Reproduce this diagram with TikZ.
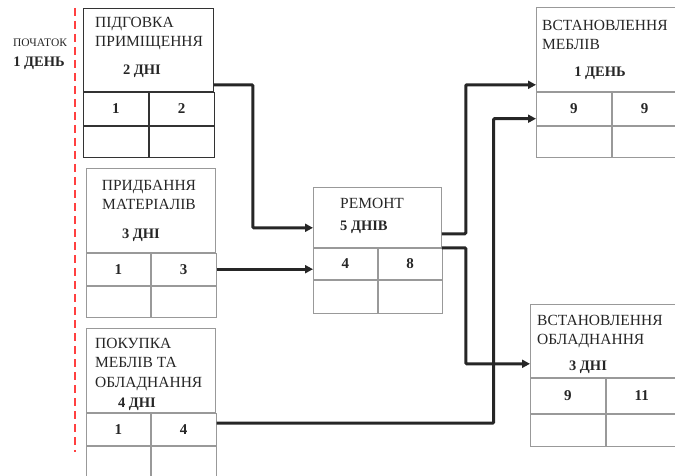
\documentclass[tikz,border=0pt]{standalone}
\usepackage{fontspec}
\setmainfont{Liberation Serif}
\usepackage{tikz}
\usetikzlibrary{positioning}
\usetikzlibrary{arrows.meta}

\begin{document}
\begin{tikzpicture}[
    x=1pt, y=-1pt,
    cell/.style={draw=black!40, line width=0.8pt, anchor=north west, inner sep=0pt, text=black!85, font=\fontsize{15}{17}\selectfont\bfseries},
    darkcell/.style={cell, draw=black!80},
    title/.style={anchor=north west, inner sep=0pt, align=left, text=black!85, font=\fontsize{15.5}{19.5}\selectfont},
    dur/.style={anchor=base, inner sep=0pt, text=black!85, font=\fontsize{14.5}{17}\selectfont\bfseries},
    link/.style={-{Triangle[length=8pt,width=8pt]}, line width=3pt, black!85, rounded corners=1pt},
    startline/.style={red!75, line width=2.5pt, dash pattern=on 8pt off 5pt}
]
\clip (0,0) rectangle (675,476);

% Start line
\coordinate (st) at (75,8);
\coordinate (sb) at (75,452);
\draw[startline] (st) -- (sb);
\node[dur, font=\fontsize{11.5}{14}\selectfont] (begin) at (40,47) {ПОЧАТОК};
\node[dur] (begindays) at (39,67) {1 ДЕНЬ};

% Tasks
\node[darkcell, minimum width=130pt, minimum height=83pt] (pA) at (83,8) {};
\node[darkcell, minimum width=65pt, minimum height=33pt] (pA1) at (pA.south west) {1};
\node[darkcell, minimum width=65pt, minimum height=33pt] (pA2) at (pA1.north east) {2};
\node[darkcell, minimum width=65pt, minimum height=31pt] (pA3) at (pA1.south west) {};
\node[darkcell, minimum width=65pt, minimum height=31pt] (pA4) at (pA3.north east) {};
\node[title] (tA) at (95,17) {ПІДГОВКА\\ПРИМІЩЕННЯ};
\node[dur] (dA) at (142,75) {2 ДНІ};

\node[cell, minimum width=129pt, minimum height=84pt] (pB) at (86,168) {};
\node[cell, minimum width=64pt, minimum height=32pt] (pB1) at (pB.south west) {1};
\node[cell, minimum width=65pt, minimum height=32pt] (pB2) at (pB1.north east) {3};
\node[cell, minimum width=64pt, minimum height=31pt] (pB3) at (pB1.south west) {};
\node[cell, minimum width=65pt, minimum height=31pt] (pB4) at (pB3.north east) {};
\node[title, anchor=north, align=center] (tB) at (149,180) {ПРИДБАННЯ\\МАТЕРІАЛІВ};
\node[dur] (dB) at (141,238) {3 ДНІ};

\node[cell, minimum width=129pt, minimum height=84pt] (pC) at (86,328) {};
\node[cell, minimum width=64pt, minimum height=32pt] (pC1) at (pC.south west) {1};
\node[cell, minimum width=65pt, minimum height=32pt] (pC2) at (pC1.north east) {4};
\node[cell, minimum width=64pt, minimum height=40pt] (pC3) at (pC1.south west) {};
\node[cell, minimum width=65pt, minimum height=40pt] (pC4) at (pC3.north east) {};
\node[title] (tC) at (95,338) {ПОКУПКА\\МЕБЛІВ ТА\\ОБЛАДНАННЯ};
\node[dur] (dC) at (137,407) {4 ДНІ};

\node[cell, minimum width=128pt, minimum height=60pt] (pR) at (313,187) {};
\node[cell, minimum width=64pt, minimum height=31pt] (pR1) at (pR.south west) {4};
\node[cell, minimum width=64pt, minimum height=31pt] (pR2) at (pR1.north east) {8};
\node[cell, minimum width=64pt, minimum height=33pt] (pR3) at (pR1.south west) {};
\node[cell, minimum width=64pt, minimum height=33pt] (pR4) at (pR3.north east) {};
\node[title] (tR) at (340,198) {РЕМОНТ};
\node[dur, anchor=base west] (dR) at (340,230) {5 ДНІВ};

\node[cell, minimum width=140pt, minimum height=84pt] (pD) at (536,7) {};
\node[cell, minimum width=75pt, minimum height=33pt] (pD1) at (pD.south west) {9};
\node[cell, minimum width=65pt, minimum height=33pt] (pD2) at (pD1.north east) {9};
\node[cell, minimum width=75pt, minimum height=31pt] (pD3) at (pD1.south west) {};
\node[cell, minimum width=65pt, minimum height=31pt] (pD4) at (pD3.north east) {};
\node[title] (tD) at (542,20) {ВСТАНОВЛЕННЯ\\МЕБЛІВ};
\node[dur] (dD) at (600,77) {1 ДЕНЬ};

\node[cell, minimum width=146pt, minimum height=73pt] (pE) at (530,304) {};
\node[cell, minimum width=75pt, minimum height=35pt] (pE1) at (pE.south west) {9};
\node[cell, minimum width=71pt, minimum height=35pt] (pE2) at (pE1.north east) {11};
\node[cell, minimum width=75pt, minimum height=32pt] (pE3) at (pE1.south west) {};
\node[cell, minimum width=71pt, minimum height=32pt] (pE4) at (pE3.north east) {};
\node[title] (tE) at (537,315) {ВСТАНОВЛЕННЯ\\ОБЛАДНАННЯ};
\node[dur] (dE) at (588,370) {3 ДНІ};

% Links
\draw[link] ([yshift=7pt]pA.south east) -- ++(39,0) |- ([yshift=20pt]pR.south west);
\draw[link] (pB2.east) -- (pB2.east -| pR1.west);
\draw[link] ([yshift=14pt]pR.south east) -- ++(24,0) |- ([yshift=7pt]pD.south west);
\draw[link] ([yshift=6pt]pC2.east) -- ++(277,0) |- ([yshift=-10pt]pD1.west);
\draw[link] (pR.south east) -- ++(24,0) |- ([yshift=14pt]pE.south west);

\end{tikzpicture}
\end{document}
